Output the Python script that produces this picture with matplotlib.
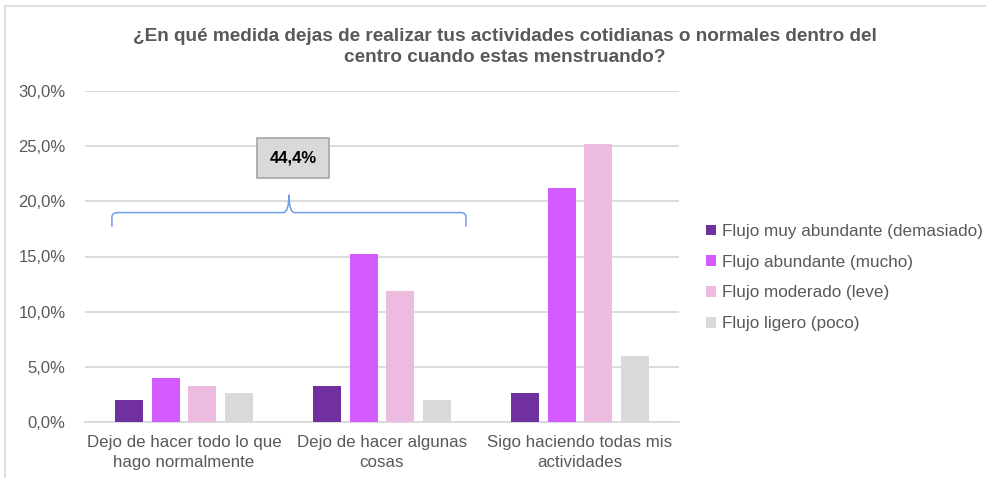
import matplotlib
matplotlib.use("Agg")
import matplotlib.pyplot as plt
import numpy as np
from matplotlib.patches import Rectangle, PathPatch
from matplotlib.path import Path
from matplotlib.ticker import FuncFormatter, MultipleLocator

plt.rcParams['font.family'] = ['Liberation Sans', 'DejaVu Sans']

categories = ["Dejo de hacer todo lo que\nhago normalmente",
              "Dejo de hacer algunas\ncosas",
              "Sigo haciendo todas mis\nactividades"]
series_names = ["Flujo muy abundante (demasiado)",
                "Flujo abundante (mucho)",
                "Flujo moderado (leve)",
                "Flujo ligero (poco)"]
muy_abundante = [2.0, 3.3, 2.6]
abundante = [4.0, 15.2, 21.2]
moderado = [3.3, 11.9, 25.2]
ligero = [2.6, 2.0, 6.0]
series_values = [muy_abundante, abundante, moderado, ligero]
colors = ["#7030A0", "#D45BFF", "#EDBBE0", "#D9D9D9"]
title = "¿En qué medida dejas de realizar tus actividades cotidianas o normales dentro del\ncentro cuando estas menstruando?"
bracket_label = "44,4%"

W, H = 987, 478
fig = plt.figure(figsize=(W / 100, H / 100), dpi=100)

# outer frame (top and left visible)
fig.patches.append(Rectangle((5 / W, -0.1), 1.1, (H - 6) / H + 0.1, transform=fig.transFigure,
                             fill=False, edgecolor="#D9D9D9", linewidth=1.2))

ax = fig.add_axes([85 / W, 56 / H, 594 / W, 331 / H])
x = np.arange(len(categories))
step = 0.184
width = 0.141
for i, (name, vals, c) in enumerate(zip(series_names, series_values, colors)):
    ax.bar(x + (i - 1.5) * step, np.array(vals) / 100.0, width=width, color=c, label=name, zorder=3)

ax.set_xlim(-0.5, len(categories) - 0.5)
ax.set_ylim(0, 0.30)
ax.yaxis.set_major_locator(MultipleLocator(0.05))
ax.yaxis.set_major_formatter(FuncFormatter(lambda v, p: f"{v*100:.1f}%".replace(".", ",")))
ax.grid(axis="y", color="#D9D9D9", linewidth=1.3, zorder=0)
for s in ["left", "right", "top"]:
    ax.spines[s].set_visible(False)
ax.spines["bottom"].set_color("#D9D9D9")
ax.spines["bottom"].set_linewidth(1.3)
ax.set_xticks(x)
ax.set_xticklabels(categories, fontsize=12.2, color="#595959", linespacing=1.42)
ax.tick_params(axis="x", length=0, pad=9)
ax.tick_params(axis="y", length=0, pad=14, labelsize=12, labelcolor="#595959")

fig.text(505 / W, 1 - 47 / H, title, ha="center", va="center", fontsize=13.7,
         fontweight="bold", color="#595959", linespacing=1.32)

leg = ax.legend(loc="upper left", bbox_to_anchor=(706 / W, 1 - 224 / H),
                bbox_transform=fig.transFigure, frameon=False, fontsize=12.3,
                handlelength=0.6, handleheight=0.6, handletextpad=0.35,
                labelspacing=0.92, borderpad=0, borderaxespad=0)
for t in leg.get_texts():
    t.set_color("#595959")

# brace annotation
x0, x1, xm = -0.364, 1.424, 0.53
yb, ye, yc = 0.1898, 0.177, 0.206
r = 0.03
verts = [(x0, ye), (x0, yb - 0.004), (x0, yb), (x0 + r, yb),
         (xm - r, yb), (xm, yb), (xm, yc),
         (xm, yc), (xm, yb), (xm + r, yb),
         (x1 - r, yb), (x1, yb), (x1, yb - 0.004), (x1, ye)]
codes = [Path.MOVETO, Path.LINETO, Path.CURVE3, Path.CURVE3,
         Path.LINETO, Path.CURVE3, Path.CURVE3,
         Path.MOVETO, Path.CURVE3, Path.CURVE3,
         Path.LINETO, Path.CURVE3, Path.CURVE3, Path.LINETO]
ax.add_patch(PathPatch(Path(verts, codes), fill=False, edgecolor="#6E9EEB", linewidth=1.1,
                       zorder=4, clip_on=False))

ax.text(0.55, 0.239, bracket_label, ha="center", va="center", fontsize=12, fontweight="bold",
        color="black", zorder=5,
        bbox=dict(boxstyle="square,pad=0.75", facecolor="#D9D9D9", edgecolor="#A6A6A6", linewidth=1.2))

fig.savefig("out.png", dpi=100)
